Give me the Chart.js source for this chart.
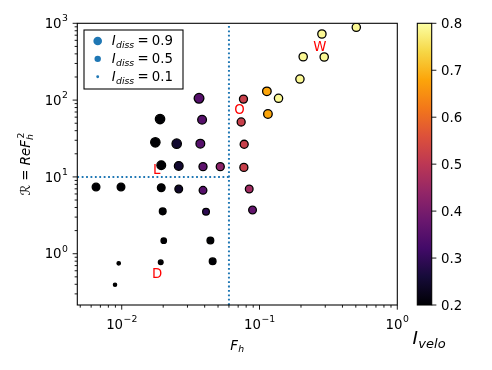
<!DOCTYPE html>
<html><head><meta charset="utf-8">
<script src="https://cdn.jsdelivr.net/npm/chart.js@4/dist/chart.umd.min.js"></script>
<style>html,body{margin:0;padding:0;background:#fff;}#wrap{position:relative;width:492px;height:370px;}</style>
</head><body><div id="wrap"><canvas id="c" width="492" height="370"></canvas></div>
<script>
// ---- data ----
const Fh    = [0.00651,0.00988,0.01897,0.01754,0.01936,0.01936,0.01984,0.02018,0.01919,0.00951,0.00894,
               0.02506,0.02593,0.02593,0.0364,0.0383,0.0372,0.0389,0.0519,0.0389,0.0409,0.0440,0.0457,
               0.0765,0.0736,0.0774,0.0770,0.0842,0.0890,0.1131,0.1151,0.1374,0.1965,0.2075,0.2948,0.2837,0.504];
const Rnum  = [7.39,7.39,56.7,28.2,14.2,7.24,3.56,1.476,0.773,0.75,0.395,
               27.1,13.9,6.96,105.5,55.6,27.1,13.6,13.6,6.69,3.52,1.49,0.796,
               103,51.9,26.6,13.3,6.96,3.71,130,65.9,105.6,188,367,364,726,887];
const Ivelo = [0.2,0.2,0.2,0.2,0.2,0.2,0.2,0.2,0.2,0.2,0.2,
               0.25,0.25,0.24,0.35,0.35,0.35,0.36,0.43,0.35,0.29,0.2,0.2,
               0.52,0.52,0.52,0.52,0.46,0.37,0.68,0.68,0.79,0.79,0.79,0.79,0.79,0.79];
const Idiss = [0.56,0.56,0.83,0.83,0.72,0.56,0.43,0.28,0.21,0.11,0.10,
               0.83,0.72,0.56,0.89,0.72,0.72,0.61,0.61,0.56,0.43,0.43,0.43,
               0.61,0.61,0.61,0.61,0.56,0.56,0.70,0.70,0.65,0.65,0.65,0.65,0.65,0.65];
const regimeText = ['W','O','L','D'];
const regimeFh   = [0.245,0.0655,0.0169,0.0166];
const regimeR    = [431,65,10.8,0.49];
const FhCrit = 0.06, RCrit = 10;
const legendIdiss = [0.9,0.5,0.1];
const cbarTicks = [0.2,0.3,0.4,0.5,0.6,0.7,0.8];
const xMajorTicks = [0.01,0.1,1], xMajorExp = ['−2','−1','0'];
const yMajorTicks = [1,10,100,1000], yMajorExp = ['0','1','2','3'];
const xLim = [0.00476,1], yLim = [0.215,1000], cLim = [0.2,0.8];

// ---- inferno colormap ----
const INF = ['#000004','#160b39','#420a68','#6a176e','#932667','#bc3754','#dd513a','#f37819','#fca50a','#f6d746','#fcffa4'];
function hex(h){return [parseInt(h.substr(1,2),16),parseInt(h.substr(3,2),16),parseInt(h.substr(5,2),16)];}
function inferno(t){t=Math.max(0,Math.min(1,t));const p=t*10,i=Math.min(9,Math.floor(p)),f=p-i;
  const a=hex(INF[i]),b=hex(INF[i+1]);return 'rgb('+a.map((v,k)=>Math.round(v+(b[k]-v)*f)).join(',')+')';}
const colorOf = v => inferno((v-cLim[0])/(cLim[1]-cLim[0]));

const FONT='"DejaVu Sans"', FS=13.33;
function fnt(r){return (r.it?'italic ':'')+r.s+'px '+FONT;}
function runsWidth(ctx,runs){let w=0;runs.forEach(r=>{ctx.font=fnt(r);r.w=ctx.measureText(r.t).width;w+=r.w+(r.g||0);});return w;}
function drawRuns(ctx,runs,x,y,align){const w=runsWidth(ctx,runs);let cx=align==='center'?x-w/2:align==='right'?x-w:x;
  runs.forEach(r=>{ctx.font=fnt(r);cx+=(r.g||0);ctx.fillText(r.t,cx,y+(r.dy||0));cx+=r.w;});}

const deco = {
  id:'deco',
  afterDraw(chart){
    const ctx=chart.ctx, a=chart.chartArea, xs=chart.scales.x, ys=chart.scales.y, cs=chart.scales.cb;
    ctx.save();
    ctx.fillStyle='#000';ctx.strokeStyle='#000';ctx.textBaseline='alphabetic';
    // frame
    ctx.lineWidth=1.07;ctx.strokeRect(a.left,a.top,a.right-a.left,a.bottom-a.top);
    // ticks
    const MAJ=4.67,MIN=2.67;
    function tickX(v,len){const p=xs.getPixelForValue(v);ctx.beginPath();ctx.moveTo(p,a.bottom);ctx.lineTo(p,a.bottom+len);ctx.stroke();}
    function tickY(v,len){const p=ys.getPixelForValue(v);ctx.beginPath();ctx.moveTo(a.left,p);ctx.lineTo(a.left-len,p);ctx.stroke();}
    ctx.lineWidth=0.9;
    for(let e=-3;e<=0;e++)for(let m=1;m<10;m++){const v=m*Math.pow(10,e);if(v<xLim[0]*0.999||v>xLim[1]*1.001)continue;tickX(v,m===1?MAJ:MIN);}
    for(let e=-1;e<=3;e++)for(let m=1;m<10;m++){const v=m*Math.pow(10,e);if(v<yLim[0]||v>yLim[1]*1.001)continue;tickY(v,m===1?MAJ:MIN);}
    // tick labels
    ctx.fillStyle='#000';
    xMajorTicks.forEach((v,i)=>{drawRuns(ctx,[{t:'10',s:FS},{t:xMajorExp[i],s:9.3,dy:-6.6,g:0.5}],xs.getPixelForValue(v),329,'center');});
    yMajorTicks.forEach((v,i)=>{drawRuns(ctx,[{t:'10',s:FS},{t:yMajorExp[i],s:9.3,dy:-6.6,g:0.5}],a.left-9.3,ys.getPixelForValue(v)+4.6,'right');});
    // x label
    drawRuns(ctx,[{t:'F',s:FS,it:true},{t:'h',s:9.3,it:true,dy:2.8,g:0.3}],(a.left+a.right)/2,349.6,'center');
    // y label (rotated)
    ctx.save();ctx.translate(30,(a.top+a.bottom)/2);ctx.rotate(-Math.PI/2);
    drawRuns(ctx,[{t:'ℛ',s:FS},{t:' = ',s:FS},{t:'ReF',s:FS,it:true},{t:'h',s:9.3,it:true,dy:2.8,g:0.3},{t:'2',s:9.3,dy:-6.2,g:-4.6}],0,0,'center');
    ctx.restore();
    // regime labels
    ctx.fillStyle='#ff0000';ctx.font=FS+'px '+FONT;ctx.textAlign='left';
    regimeText.forEach((t,i)=>ctx.fillText(t,xs.getPixelForValue(regimeFh[i]),ys.getPixelForValue(regimeR[i])));
    // legend
    ctx.fillStyle='#fff';ctx.fillRect(84,30,99,59);
    ctx.lineWidth=1.07;ctx.strokeStyle='#000';ctx.strokeRect(84,30,99,59);
    legendIdiss.forEach((v,i)=>{const yc=41+i*17.85;
      ctx.fillStyle='#1f77b4';ctx.beginPath();ctx.arc(97.7,yc,4.55*Math.sqrt(v),0,2*Math.PI);ctx.fill();
      ctx.fillStyle='#000';
      drawRuns(ctx,[{t:'I',s:FS,it:true},{t:'diss',s:9.3,it:true,dy:2.8,g:0.4},{t:'=',s:FS,g:3.2},{t:v.toFixed(1),s:FS,g:3.2}],111.7,yc+4.3,'left');});
    // colorbar
    const cx0=417.3,cx1=431.7,ct=cs.getPixelForValue(cLim[1]),cb=cs.getPixelForValue(cLim[0]);
    const g=ctx.createLinearGradient(0,cb,0,ct);INF.forEach((c,i)=>g.addColorStop(i/10,c));
    ctx.fillStyle=g;ctx.fillRect(cx0,ct,cx1-cx0,cb-ct);
    ctx.strokeStyle='#000';ctx.lineWidth=1.07;ctx.strokeRect(cx0,ct,cx1-cx0,cb-ct);
    ctx.lineWidth=0.9;ctx.fillStyle='#000';
    cbarTicks.forEach(v=>{const p=cs.getPixelForValue(v);ctx.beginPath();ctx.moveTo(cx1,p);ctx.lineTo(cx1+MAJ,p);ctx.stroke();
      ctx.font=FS+'px '+FONT;ctx.textAlign='left';ctx.fillText(v.toFixed(1),cx1+9.3,p+4.9);});
    drawRuns(ctx,[{t:'I',s:18.5,it:true},{t:'velo',s:13,it:true,dy:3.8,g:0.5}],429,344,'center');
    ctx.restore();
  }
};

const pts = Fh.map((f,i)=>({x:f,y:Rnum[i]}));
new Chart(document.getElementById('c'),{
  type:'scatter',
  data:{datasets:[
    {data:pts,pointRadius:Idiss.map(v=>5.15*Math.sqrt(v)),pointBackgroundColor:Ivelo.map(colorOf),
     pointBorderColor:'#000',pointBorderWidth:1.3,showLine:false,clip:0},
    {data:[{x:xLim[0],y:RCrit},{x:FhCrit,y:RCrit}],showLine:true,borderColor:'#1f77b4',borderWidth:2,borderDash:[1.8,2.6],borderCapStyle:'butt',pointRadius:0,clip:0},
    {data:[{x:FhCrit,y:yLim[0]},{x:FhCrit,y:yLim[1]}],showLine:true,borderColor:'#1f77b4',borderWidth:2,borderDash:[1.8,2.6],borderCapStyle:'butt',pointRadius:0,clip:0}
  ]},
  options:{
    responsive:false,animation:false,devicePixelRatio:1,
    layout:{padding:{left:0,right:94.7,top:23.3,bottom:0}},
    plugins:{legend:{display:false},tooltip:{enabled:false}},
    scales:{
      x:{type:'logarithmic',min:xLim[0],max:xLim[1],grid:{display:false},border:{display:false},ticks:{display:false},afterFit(s){s.height=65;}},
      y:{type:'logarithmic',min:yLim[0],max:yLim[1],grid:{display:false},border:{display:false},ticks:{display:false},afterFit(s){s.width=77.3;}},
      cb:{type:'linear',display:false,position:'right',min:cLim[0],max:cLim[1]}
    }
  },
  plugins:[deco]
});
</script></body></html>
